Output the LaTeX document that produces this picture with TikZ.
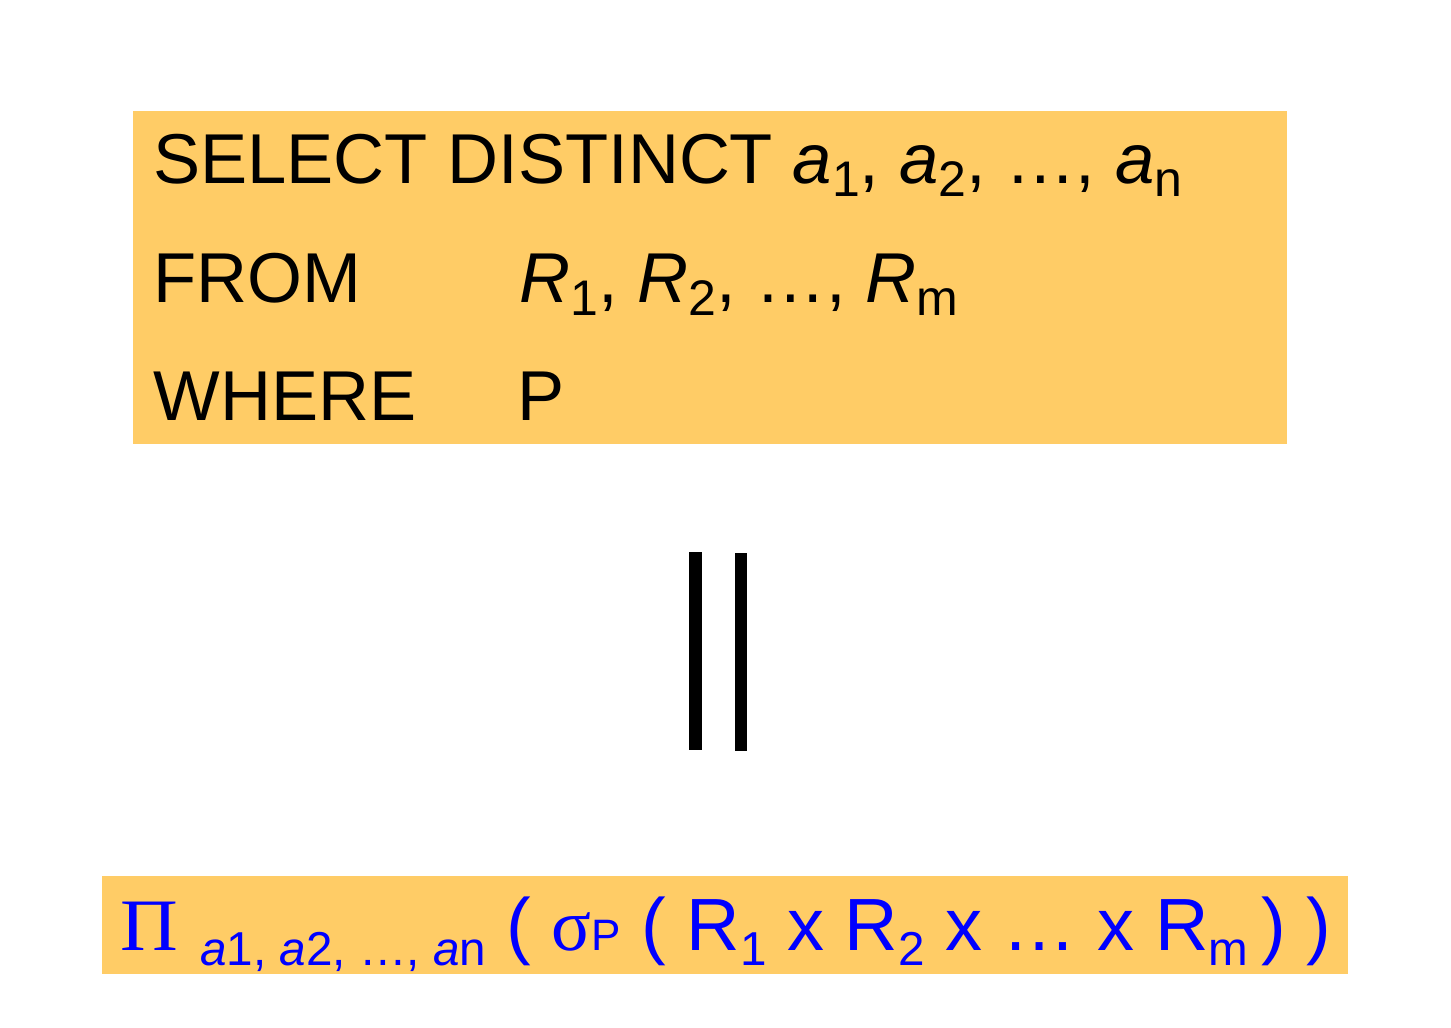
\documentclass[tikz,border=0pt]{standalone}
\usepackage{fontspec}
\setmainfont{Liberation Sans}
\newfontfamily\seriffam{Liberation Serif}
\definecolor{boxfill}{HTML}{FFCC66}
\definecolor{formblue}{HTML}{0000FF}
\newcommand{\mainsz}{\fontsize{35.3pt}{40pt}\selectfont}
\newcommand{\formsz}{\fontsize{37pt}{42pt}\selectfont}
\newcommand{\subtxt}[1]{\raisebox{-6.5pt}{\fontsize{25pt}{27pt}\selectfont #1}}
\newcommand{\subtxtb}[1]{\raisebox{-7.5pt}{\fontsize{23.8pt}{26pt}\selectfont #1}}
\begin{document}
\begin{tikzpicture}[x=0.5pt,y=-0.5pt,
  sqltext/.style={inner sep=0pt,anchor=base west,font=\mainsz,text=black},
  formtext/.style={inner sep=0pt,anchor=base west,font=\formsz,text=formblue},
  bar/.style={fill=black}]
\useasboundingbox[fill=white] (0,0) rectangle (1451,1028);
% boxes
\fill[boxfill] (133,111) rectangle (1287,444);
\fill[boxfill] (102,876) rectangle (1348,974);
% SQL text
\node[sqltext] (sel) at (153,183) {SELECT DISTINCT \textit{a}\subtxt{1}, \textit{a}\subtxt{2}, …, \textit{a}\subtxt{n}};
\node[sqltext] (from) at (153,302) {FROM};
\node[sqltext] (rels) at (519,302) {\textit{R}\subtxt{1}, \textit{R}\subtxt{2}, …, \textit{R}\subtxt{m}};
\node[sqltext] (where) at (153,420) {WHERE};
\node[sqltext] (pred) at (517,420) {P};
% equality bars
\fill[bar] (689,552) rectangle (702,750);
\fill[bar] (735,553) rectangle (747,751);
% relational algebra
\node[formtext] (ra) at (120,950) {{\seriffam\scalebox{1.08}[1]{Π}}\hspace{0.3em}\subtxtb{\textit{a}1, \textit{a}2, …, \textit{a}n} ( {\seriffam σ}{\fontsize{22pt}{24pt}\selectfont P} ( R\subtxtb{1} x R\subtxtb{2} x … x R\subtxtb{m}\hspace{-0.1em} ) )};
\end{tikzpicture}
\end{document}
